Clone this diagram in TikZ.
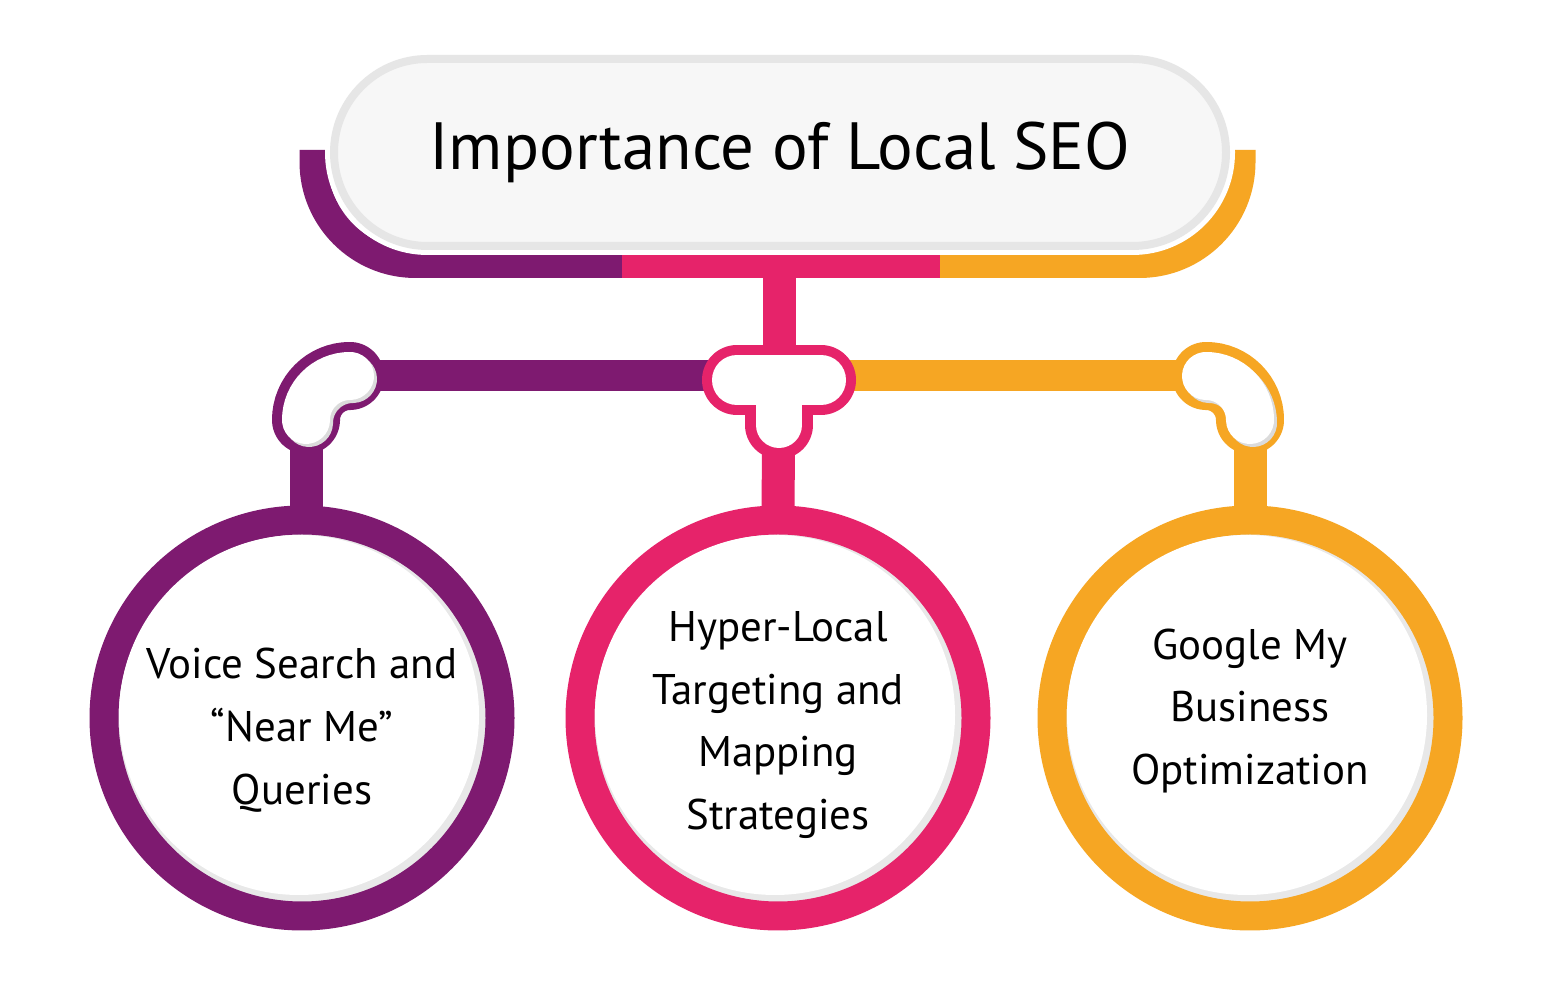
\documentclass[tikz,border=0pt]{standalone}
\usepackage{fontspec}
\setmainfont{PT Sans}
\usepackage{tikz}
\usetikzlibrary{positioning}
\definecolor{SeoPurple}{HTML}{7E1A70}
\definecolor{SeoPink}{HTML}{E6236A}
\definecolor{SeoOrange}{HTML}{F6A623}
\definecolor{PillGray}{HTML}{E6E6E6}
\definecolor{PillFill}{HTML}{F7F7F7}

\begin{document}
\begin{tikzpicture}[
  band/.style={line width=0.28cm},
  pipe/.style={line width=0.33cm},
  fitting/.style={line width=0.68cm, line cap=round},
  fitinner/.style={white, line width=0.48cm, line cap=round},
  ring/.style={circle, minimum size=3.96cm, line width=0.29cm, fill=black!9, inner sep=0pt},
  circtext/.style={align=center, font=\fontsize{12.2}{17.9}\selectfont, text=black}
]
  \useasboundingbox[fill=white] (0,0) rectangle (15.68,-10.03);

  % Title band
  \draw[band, SeoPurple] (3.135,-1.50) -- (3.135,-1.62)
    arc[start angle=180, end angle=270, radius=1.02] -- (6.22,-2.64);
  \draw[band, SeoPink] (6.22,-2.64) -- (9.40,-2.64);
  \draw[band, SeoOrange] (9.40,-2.64) -- (11.395,-2.64)
    arc[start angle=270, end angle=360, radius=1.02] -- (12.415,-1.50);
  \coordinate (bandmid) at (7.79,-2.64);

  % Title pill
  \node[draw=PillGray, fill=PillFill, line width=0.08cm, rounded corners=0.935cm,
        minimum width=8.92cm, minimum height=1.87cm,
        preaction={draw=white, line width=0.18cm},
        font=\fontsize{19}{23}\selectfont] (title) at (7.80,-1.525)
    {Importance of Local SEO};

  % Circles
  \node[ring, draw=SeoPurple] (voice) at (3.02,-7.18) {};
  \node[ring, draw=SeoPink] (hyper) at (7.78,-7.18) {};
  \node[ring, draw=SeoOrange] (google) at (12.50,-7.18) {};
  \fill[white] ([shift={(-0.03,0.03)}]voice.center) circle (1.80);
  \fill[white] ([shift={(-0.03,0.03)}]hyper.center) circle (1.80);
  \fill[white] ([shift={(-0.03,0.03)}]google.center) circle (1.80);

  \node[circtext] (voicetext) at ([yshift=-0.12cm]voice.center)
    {Voice Search and\\“Near Me”\\Queries};
  \node[circtext] (hypertext) at ([yshift=-0.07cm]hyper.center)
    {Hyper-Local\\Targeting and\\Mapping\\Strategies};
  \node[circtext] (googletext) at ([yshift=0.07cm]google.center)
    {Google My\\Business\\Optimization};

  % Fitting points
  \coordinate (tee) at (7.79,-3.80);
  \coordinate (elbowL) at (3.50,-3.76);
  \coordinate (elbowLend) at (3.06,-4.20);
  \coordinate (elbowR) at (12.06,-3.76);
  \coordinate (elbowRend) at (12.50,-4.20);

  % Pipes
  \draw[pipe, SeoPink] (bandmid) -- (tee);
  \draw[pipe, SeoPink] (tee) -- ([yshift=-0.05cm]hyper.north);
  \draw[line width=0.31cm, SeoPurple] (elbowL) -- (elbowL -| tee);
  \draw[line width=0.31cm, SeoOrange] (elbowR -| tee) -- (elbowR);
  \draw[pipe, SeoPurple] (elbowLend) -- ([yshift=-0.05cm]elbowLend |- voice.north);
  \draw[pipe, SeoOrange] (elbowRend) -- ([yshift=-0.05cm]elbowRend |- google.north);

  % Left elbow
  \draw[fitting, SeoPurple] (elbowL) arc[start angle=90, end angle=180, radius=0.44];
  \draw[fitinner, black!14] ([shift={(0.03,-0.03)}]elbowL) arc[start angle=90, end angle=180, radius=0.44];
  \draw[fitinner] (elbowL) arc[start angle=90, end angle=180, radius=0.44];

  % Right elbow
  \draw[fitting, SeoOrange] (elbowR) arc[start angle=90, end angle=0, radius=0.44];
  \draw[fitinner, black!14] ([shift={(0.03,-0.03)}]elbowR) arc[start angle=90, end angle=0, radius=0.44];
  \draw[fitinner] (elbowR) arc[start angle=90, end angle=0, radius=0.44];

  % Tee
  \draw[SeoPink, line width=0.70cm, line cap=round] ([xshift=-0.42cm]tee) -- ([xshift=0.42cm]tee);
  \draw[fitting, SeoPink] (tee) -- ([yshift=-0.45cm]tee);
  \draw[white, line width=0.50cm, line cap=round] ([xshift=-0.42cm]tee) -- ([xshift=0.42cm]tee);
  \draw[white, line width=0.46cm, line cap=round] (tee) -- ([yshift=-0.45cm]tee);
\end{tikzpicture}
\end{document}
